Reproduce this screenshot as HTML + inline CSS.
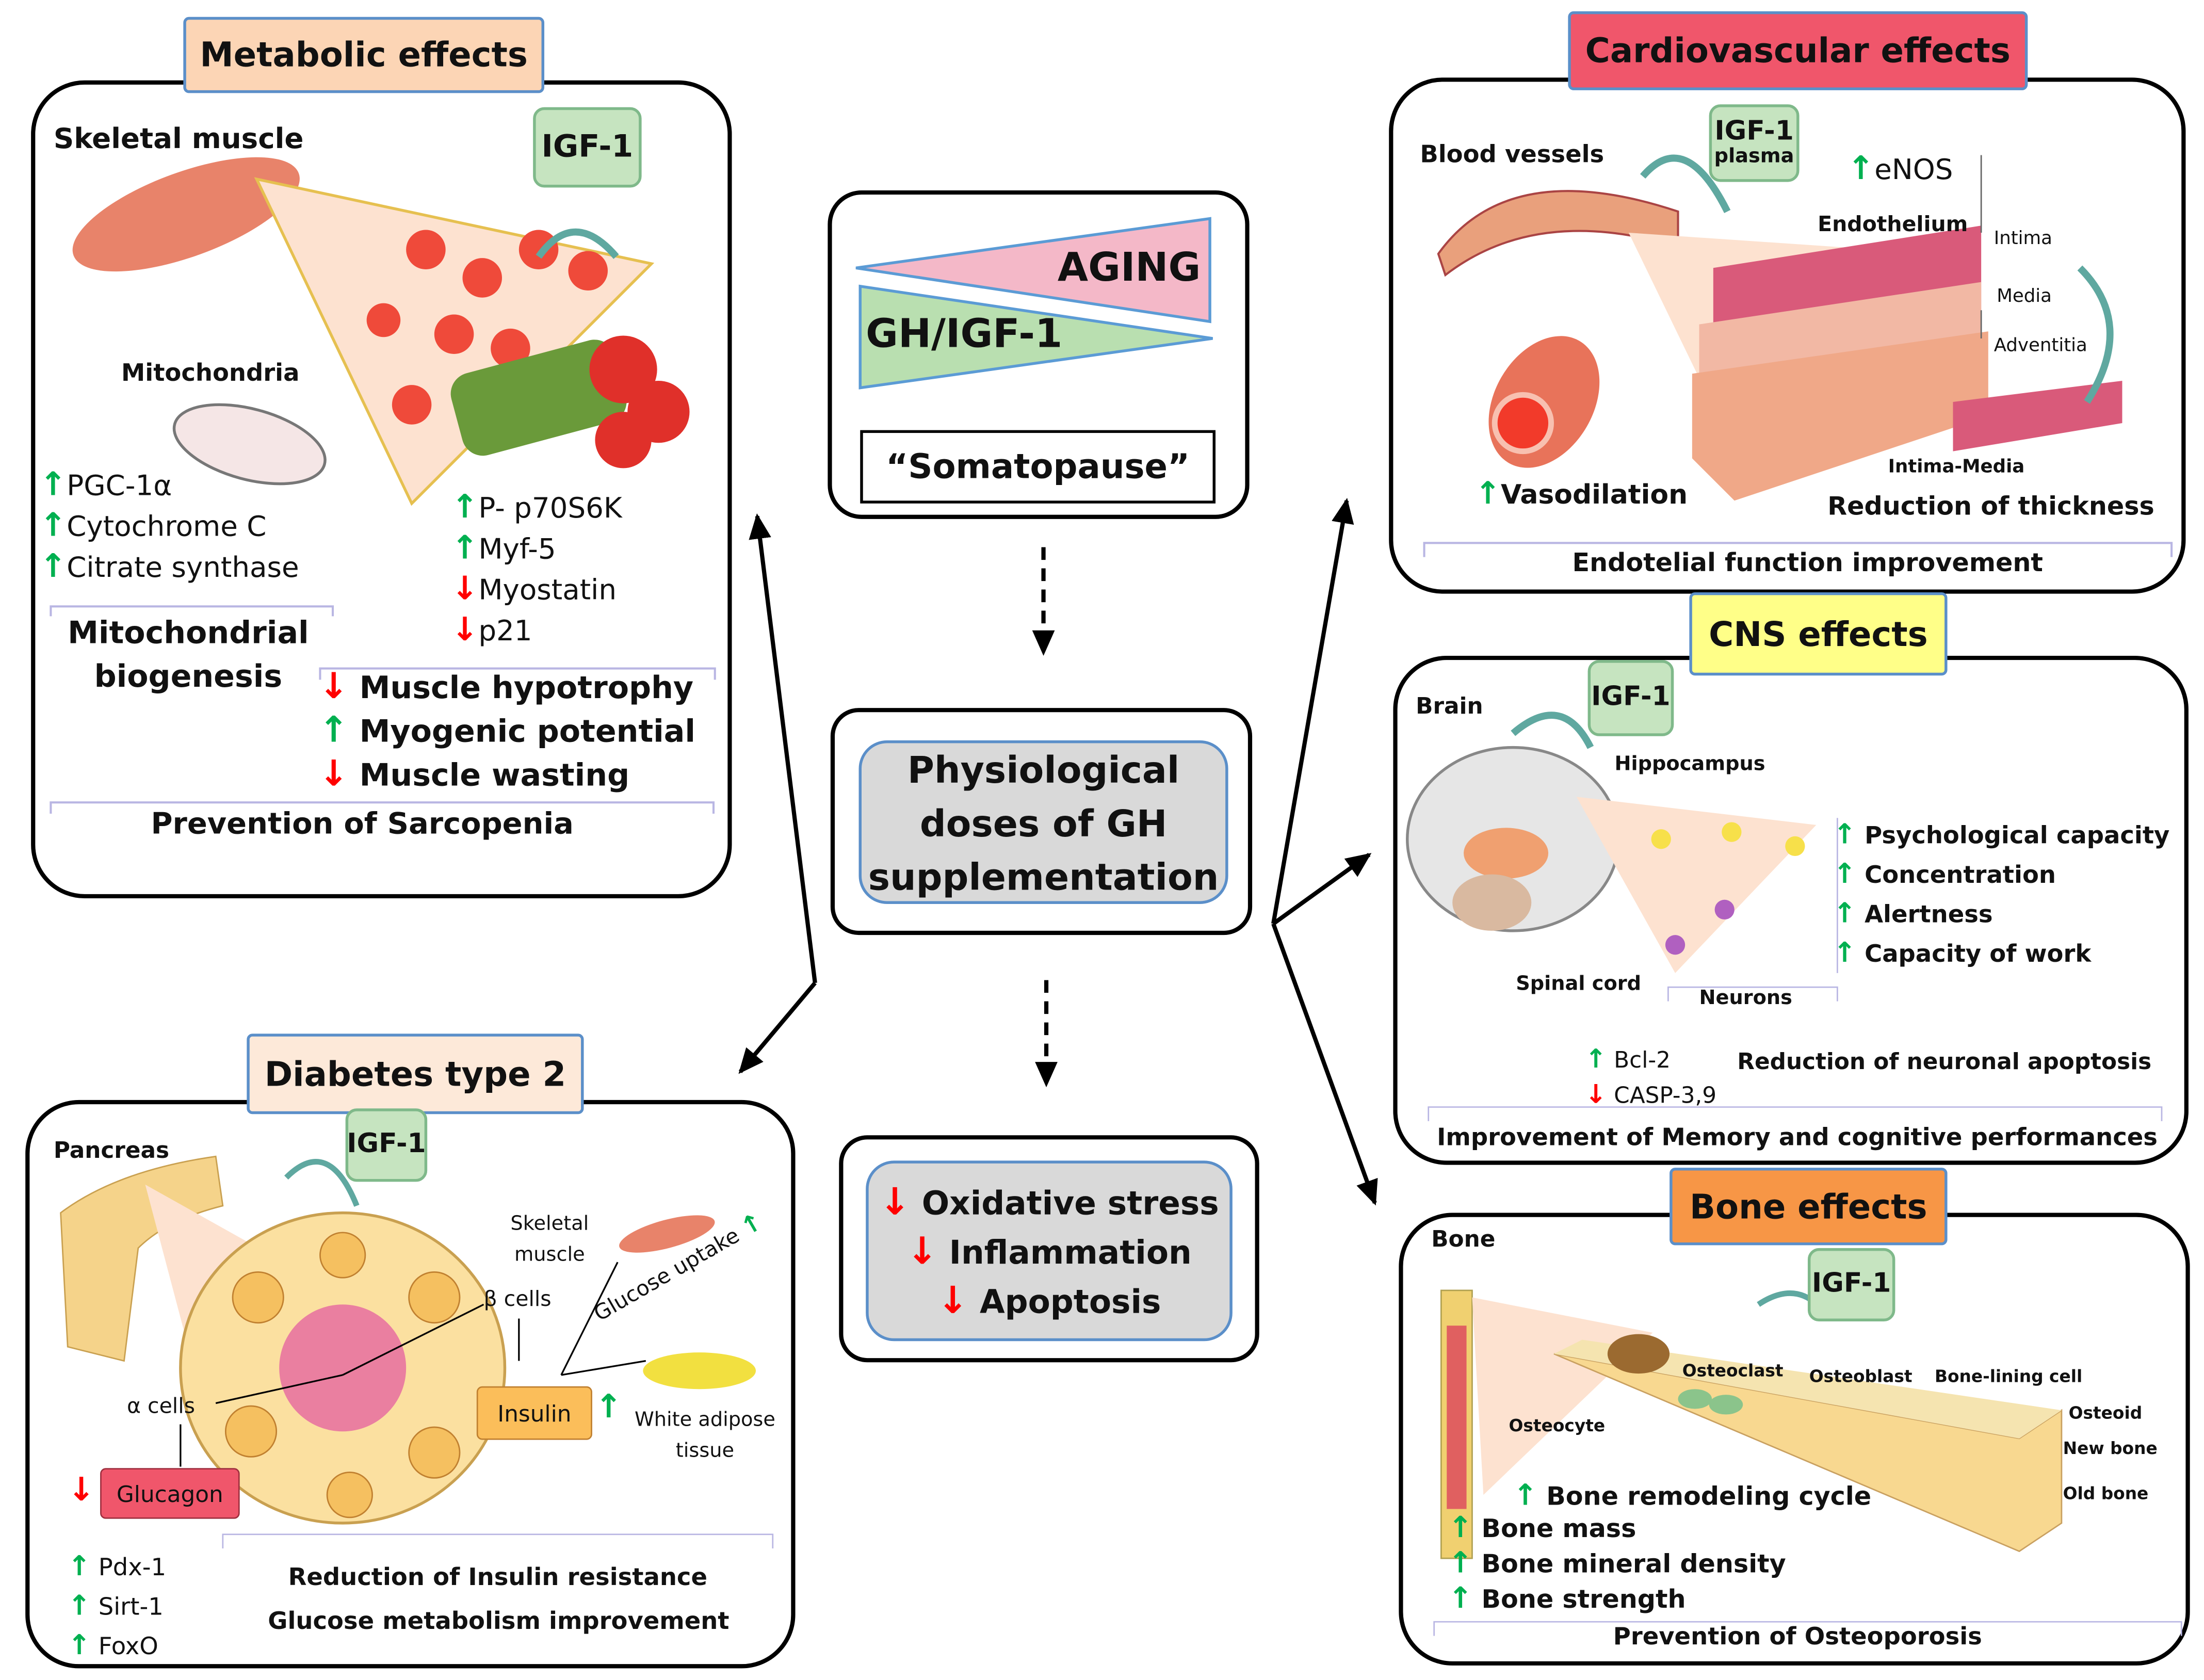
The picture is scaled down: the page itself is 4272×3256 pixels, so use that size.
<!DOCTYPE html>
<html><head><meta charset="utf-8"><style>
html,body{margin:0;padding:0;background:#fff;}
body{width:4272px;height:3256px;overflow:hidden;position:relative;}
#w{position:absolute;left:0;top:0;width:1563px;height:1191px;transform:scale(2.7332);transform-origin:0 0;font-family:"DejaVu Sans","Liberation Sans",sans-serif;color:#111;}
.a{position:absolute;}
.box{position:absolute;border:3px solid #000;border-radius:38px;background:#fff;box-sizing:border-box;}
.tab{position:absolute;border:2px solid #5b8fc9;box-sizing:border-box;font-weight:bold;font-size:24px;display:flex;align-items:center;justify-content:center;border-radius:4px;white-space:nowrap;}
.igf{position:absolute;background:#c6e4c0;border:2px solid #7fb98a;border-radius:8px;font-weight:bold;font-size:19px;display:flex;flex-direction:column;align-items:center;justify-content:center;box-sizing:border-box;text-align:center;line-height:1.05;white-space:nowrap;}
.t{position:absolute;white-space:nowrap;}
.b{font-weight:bold;}
.up{color:#00b050;font-weight:bold;font-family:"DejaVu Sans",sans-serif;font-size:1.15em;line-height:1;}
.dn{color:#ff0000;font-weight:bold;font-family:"DejaVu Sans",sans-serif;font-size:1.15em;line-height:1;}
</style></head><body><div id="w">

<svg class="a" style="left:0;top:0" width="1563" height="1191">
<defs><marker id="ar" markerUnits="userSpaceOnUse" markerWidth="18" markerHeight="16" refX="16" refY="8" orient="auto"><path d="M0,0 L18,8 L0,16 z" fill="#000"/></marker></defs>
<line x1="578" y1="697" x2="537" y2="366" stroke="#000" stroke-width="3" marker-end="url(#ar)"/>
<line x1="578" y1="697" x2="525" y2="760" stroke="#000" stroke-width="3" marker-end="url(#ar)"/>
<line x1="903" y1="655" x2="955" y2="355" stroke="#000" stroke-width="3" marker-end="url(#ar)"/>
<line x1="903" y1="655" x2="971" y2="606" stroke="#000" stroke-width="3" marker-end="url(#ar)"/>
<line x1="903" y1="655" x2="975" y2="853" stroke="#000" stroke-width="3" marker-end="url(#ar)"/>
<line x1="740" y1="388" x2="740" y2="463" stroke="#000" stroke-width="3" stroke-dasharray="9,6" marker-end="url(#ar)"/>
<line x1="742" y1="695" x2="742" y2="769" stroke="#000" stroke-width="3" stroke-dasharray="9,6" marker-end="url(#ar)"/>
</svg>

<!-- METABOLIC -->
<div class="box" style="left:22px;top:57px;width:497px;height:580px;"></div>
<div class="tab" style="left:130px;top:12px;width:256px;height:54px;background:#fcd5b5;">Metabolic effects</div>
<svg class="a" style="left:22px;top:57px" width="497" height="580">
<ellipse cx="110" cy="95" rx="85" ry="30" fill="#e8836a" transform="rotate(-20 110 95)"/>
<polygon points="160,70 440,130 270,300" fill="#fde2d0" stroke="#e6c050" stroke-width="2"/>
<g fill="#ef4a3a"><circle cx="280" cy="120" r="14"/><circle cx="320" cy="140" r="14"/><circle cx="360" cy="120" r="14"/><circle cx="300" cy="180" r="14"/><circle cx="340" cy="190" r="14"/><circle cx="270" cy="230" r="14"/><circle cx="250" cy="170" r="12"/><circle cx="395" cy="135" r="14"/></g>
<rect x="300" y="195" width="120" height="60" rx="15" fill="#6a9a3a" transform="rotate(-15 360 225)"/>
<circle cx="420" cy="205" r="24" fill="#e0302a"/><circle cx="445" cy="235" r="22" fill="#e0302a"/><circle cx="420" cy="255" r="20" fill="#e0302a"/>
<ellipse cx="155" cy="258" rx="55" ry="25" fill="#f5e6e6" stroke="#777" stroke-width="2" transform="rotate(15 155 258)"/>
<path d="M360,125 q25,-35 55,0" fill="none" stroke="#5fa8a0" stroke-width="5"/>
<g stroke="#b9b6e3" stroke-width="1.5" fill="none">
<path d="M14,380 v-7 h200 v7"/><path d="M205,425 v-8 h280 v8"/><path d="M14,520 v-8 h470 v8"/></g>
</svg>
<div class="igf" style="left:378px;top:76px;width:77px;height:57px;font-size:22px;">IGF-1</div>
<div class="t b" style="left:38px;top:86px;font-size:20px;">Skeletal muscle</div>
<div class="t b" style="left:86px;top:255px;font-size:17px;">Mitochondria</div>
<div class="t" style="left:28px;top:330px;font-size:20px;line-height:29px;"><span class="up">↑</span>PGC-1α<br><span class="up">↑</span>Cytochrome C<br><span class="up">↑</span>Citrate synthase</div>
<div class="t b" style="left:36px;top:434px;font-size:22px;line-height:31px;text-align:center;width:195px;">Mitochondrial<br>biogenesis</div>
<div class="t" style="left:320px;top:346px;font-size:20px;line-height:29px;"><span class="up">↑</span>P- p70S6K<br><span class="up">↑</span>Myf-5<br><span class="dn">↓</span>Myostatin<br><span class="dn">↓</span>p21</div>
<div class="t b" style="left:226px;top:473px;font-size:22px;line-height:31px;"><span class="dn">↓</span> Muscle hypotrophy<br><span class="up">↑</span> Myogenic potential<br><span class="dn">↓</span> Muscle wasting</div>
<div class="t b" style="left:107px;top:572px;font-size:21px;">Prevention of Sarcopenia</div>

<!-- CENTER TOP -->
<div class="box" style="left:587px;top:135px;width:299px;height:233px;border-radius:24px;"></div>
<svg class="a" style="left:0;top:0" width="1563" height="400">
<polygon points="607,190 858,155 858,228" fill="#f4b8c8" stroke="#5b9bd5" stroke-width="2"/>
<polygon points="610,203 610,275 860,240" fill="#b9dfb0" stroke="#5b9bd5" stroke-width="2"/>
</svg>
<div class="t b" style="left:750px;top:173px;font-size:28px;">AGING</div>
<div class="t b" style="left:614px;top:220px;font-size:28px;">GH/IGF-1</div>
<div class="a b" style="left:610px;top:305px;width:252px;height:52px;border:2px solid #000;box-sizing:border-box;font-size:24px;display:flex;align-items:center;justify-content:center;">“Somatopause”</div>

<!-- PHYSIO -->
<div class="box" style="left:589px;top:502px;width:299px;height:161px;border-radius:20px;"></div>
<div class="a b" style="left:609px;top:525px;width:262px;height:116px;background:#d9d9d9;border:2px solid #5b8fc9;border-radius:20px;box-sizing:border-box;font-size:26px;line-height:38px;text-align:center;padding-top:1px;">Physiological<br>doses of GH<br>supplementation</div>

<!-- OXIDATIVE -->
<div class="box" style="left:595px;top:805px;width:298px;height:161px;border-radius:20px;"></div>
<div class="a b" style="left:614px;top:823px;width:260px;height:128px;background:#d9d9d9;border:2px solid #5b8fc9;border-radius:20px;box-sizing:border-box;font-size:23px;line-height:35px;text-align:center;padding-top:12px;"><span class="dn">↓</span> Oxidative stress<br><span class="dn">↓</span> Inflammation<br><span class="dn">↓</span> Apoptosis</div>

<!-- CARDIO -->
<div class="box" style="left:985px;top:55px;width:565px;height:366px;"></div>
<div class="tab" style="left:1112px;top:8px;width:326px;height:56px;background:#f0566b;">Cardiovascular effects</div>
<svg class="a" style="left:985px;top:55px" width="565" height="366">
<path d="M35,125 q50,-70 170,-30 l0,25 q-100,-30 -165,20z" fill="#e9a07c" stroke="#a44" stroke-width="1.5"/>
<polygon points="170,110 390,125 250,275" fill="#fde2d0"/>
<ellipse cx="110" cy="230" rx="35" ry="50" fill="#e8735a" transform="rotate(30 110 230)"/>
<circle cx="95" cy="245" r="20" fill="#f23a2a" stroke="#f8c0b0" stroke-width="4"/>
<path d="M230,135 l190,-30 l0,80 l-190,40z" fill="#d95a7a"/>
<path d="M220,175 l200,-30 l0,70 l-200,45z" fill="#f2b8a4"/>
<path d="M215,210 l210,-30 l0,60 l-180,60 l-30,-30z" fill="#f0a888"/>
<path d="M400,230 l120,-15 l0,30 l-120,20z" fill="#d95a7a"/>
<path d="M420,110 v-55 M420,165 v20" stroke="#666"/>
<path d="M490,135 q40,40 5,95" fill="none" stroke="#5fa8a0" stroke-width="5"/>
<path d="M180,70 q30,-35 60,25" fill="none" stroke="#5fa8a0" stroke-width="5"/>
<path d="M25,340 v-10 h530 v10" fill="none" stroke="#b9b6e3" stroke-width="1.5"/>
</svg>
<div class="igf" style="left:1212px;top:74px;width:64px;height:55px;font-size:19px;">IGF-1<span style="font-size:14px">plasma</span></div>
<div class="t b" style="left:1007px;top:100px;font-size:17px;">Blood vessels</div>
<div class="t" style="left:1310px;top:108px;font-size:20px;"><span class="up">↑</span>eNOS</div>
<div class="t b" style="left:1289px;top:150px;font-size:15px;">Endothelium</div>
<div class="t" style="left:1414px;top:162px;font-size:13px;">Intima</div>
<div class="t" style="left:1416px;top:203px;font-size:13px;">Media</div>
<div class="t" style="left:1414px;top:238px;font-size:13px;">Adventitia</div>
<div class="t b" style="left:1339px;top:324px;font-size:13px;">Intima-Media</div>
<div class="t b" style="left:1046px;top:340px;font-size:19px;"><span class="up">↑</span>Vasodilation</div>
<div class="t b" style="left:1296px;top:349px;font-size:18px;">Reduction of thickness</div>
<div class="t b" style="left:1115px;top:389px;font-size:18px;">Endotelial function improvement</div>

<!-- CNS -->
<div class="box" style="left:988px;top:465px;width:564px;height:361px;"></div>
<div class="tab" style="left:1198px;top:420px;width:183px;height:59px;background:#ffff88;">CNS effects</div>
<svg class="a" style="left:988px;top:465px" width="564" height="361">
<ellipse cx="85" cy="130" rx="75" ry="65" fill="#e6e6e6" stroke="#888" stroke-width="2"/>
<ellipse cx="80" cy="140" rx="30" ry="18" fill="#f0a070"/>
<ellipse cx="70" cy="175" rx="28" ry="20" fill="#d9b9a0"/>
<polygon points="130,100 300,120 200,225" fill="#fde2d0"/>
<g fill="#f7e04a"><circle cx="190" cy="130" r="7"/><circle cx="240" cy="125" r="7"/><circle cx="285" cy="135" r="7"/></g>
<g fill="#b060c0"><circle cx="235" cy="180" r="7"/><circle cx="200" cy="205" r="7"/></g>
<path d="M195,245 v-10 h120 v10" fill="none" stroke="#b9b6e3"/>
<path d="M25,330 v-10 h520 v10" fill="none" stroke="#b9b6e3"/>
<path d="M315,115 v110" stroke="#b9b6e3"/>
<path d="M85,55 q35,-30 55,10" fill="none" stroke="#5fa8a0" stroke-width="5"/>
</svg>
<div class="igf" style="left:1126px;top:468px;width:61px;height:54px;">IGF-1</div>
<div class="t b" style="left:1004px;top:491px;font-size:16px;">Brain</div>
<div class="t b" style="left:1145px;top:534px;font-size:14px;">Hippocampus</div>
<div class="t b" style="left:1075px;top:690px;font-size:14px;">Spinal cord</div>
<div class="t b" style="left:1205px;top:700px;font-size:14px;">Neurons</div>
<div class="t b" style="left:1300px;top:579px;font-size:17px;line-height:28px;"><span class="up">↑</span> Psychological capacity<br><span class="up">↑</span> Concentration<br><span class="up">↑</span> Alertness<br><span class="up">↑</span> Capacity of work</div>
<div class="t" style="left:1124px;top:739px;font-size:16px;line-height:25px;"><span class="up">↑</span> Bcl-2<br><span class="dn">↓</span> CASP-3,9</div>
<div class="t b" style="left:1232px;top:743px;font-size:16px;">Reduction of neuronal apoptosis</div>
<div class="t b" style="left:1019px;top:797px;font-size:17px;">Improvement of Memory and cognitive performances</div>

<!-- BONE -->
<div class="box" style="left:992px;top:860px;width:561px;height:321px;"></div>
<div class="tab" style="left:1184px;top:828px;width:197px;height:55px;background:#f79646;">Bone effects</div>
<svg class="a" style="left:992px;top:860px" width="561" height="321">
<rect x="30" y="55" width="22" height="190" fill="#f0d070" stroke="#b0a050"/>
<rect x="34" y="80" width="14" height="130" fill="#e06060"/>
<polygon points="52,60 180,85 60,200" fill="#fde2d0"/>
<path d="M110,100 l330,60 l30,-20 l0,80 l-30,20 l-330,-140z" fill="#f8d890" stroke="#c9a060"/>
<path d="M110,100 l330,60 l30,-20 l-340,-50z" fill="#f5e4b0"/>
<ellipse cx="170" cy="100" rx="22" ry="14" fill="#9b6a30"/>
<g fill="#8bc48b"><ellipse cx="210" cy="132" rx="12" ry="7"/><ellipse cx="232" cy="136" rx="12" ry="7"/></g>
<path d="M255,65 q30,-20 50,10" fill="none" stroke="#5fa8a0" stroke-width="4"/>
<path d="M25,300 v-10 h530 v10" fill="none" stroke="#b9b6e3"/>
</svg>
<div class="igf" style="left:1282px;top:885px;width:62px;height:52px;">IGF-1</div>
<div class="t b" style="left:1015px;top:869px;font-size:16px;">Bone</div>
<div class="t b" style="left:1193px;top:965px;font-size:12px;">Osteoclast</div>
<div class="t b" style="left:1283px;top:969px;font-size:12px;">Osteoblast</div>
<div class="t b" style="left:1372px;top:969px;font-size:12px;">Bone-lining cell</div>
<div class="t b" style="left:1070px;top:1004px;font-size:12px;">Osteocyte</div>
<div class="t b" style="left:1467px;top:995px;font-size:12px;">Osteoid</div>
<div class="t b" style="left:1463px;top:1020px;font-size:12px;">New bone</div>
<div class="t b" style="left:1463px;top:1052px;font-size:12px;">Old bone</div>
<div class="t b" style="left:1073px;top:1050px;font-size:18px;"><span class="up">↑</span> Bone remodeling cycle</div>
<div class="t b" style="left:1027px;top:1072px;font-size:18px;line-height:25px;"><span class="up">↑</span> Bone mass<br><span class="up">↑</span> Bone mineral density<br><span class="up">↑</span> Bone strength</div>
<div class="t b" style="left:1144px;top:1151px;font-size:17px;">Prevention of Osteoporosis</div>

<!-- DIABETES -->
<div class="box" style="left:18px;top:780px;width:546px;height:403px;"></div>
<div class="tab" style="left:175px;top:733px;width:239px;height:57px;background:#fde9d9;">Diabetes type 2</div>
<svg class="a" style="left:18px;top:780px" width="546" height="403">
<path d="M25,80 q40,-30 110,-40 l5,35 q-40,10 -60,30 l-10,80 l-40,-10z" fill="#f5d38a" stroke="#c9a050"/>
<polygon points="85,60 210,130 130,230" fill="#fde2d0"/>
<ellipse cx="225" cy="190" rx="115" ry="110" fill="#fbe0a0" stroke="#c9a050" stroke-width="2"/>
<circle cx="225" cy="190" r="45" fill="#ea7fa0"/>
<g fill="#f5c060" stroke="#c08030"><circle cx="165" cy="140" r="18"/><circle cx="290" cy="140" r="18"/><circle cx="160" cy="235" r="18"/><circle cx="290" cy="250" r="18"/><circle cx="225" cy="110" r="16"/><circle cx="230" cy="280" r="16"/></g>
<ellipse cx="455" cy="95" rx="35" ry="10" fill="#e8836a" transform="rotate(-15 455 95)"/>
<ellipse cx="478" cy="192" rx="40" ry="13" fill="#f2e040"/>
<path d="M185,55 q30,-30 50,20" fill="none" stroke="#5fa8a0" stroke-width="4"/>
<g stroke="#000" fill="none" stroke-width="1.2"><path d="M380,195 l40,-80"/><path d="M380,195 l60,-10"/><path d="M350,155 v30"/><path d="M225,195 l100,-50"/><path d="M135,215 l90,-20"/><path d="M110,230 v30"/></g>
<path d="M140,318 v-10 h390 v10" fill="none" stroke="#b9b6e3"/>
</svg>
<div class="igf" style="left:245px;top:786px;width:58px;height:52px;">IGF-1</div>
<div class="t b" style="left:38px;top:806px;font-size:16px;">Pancreas</div>
<div class="t" style="left:362px;top:857px;font-size:14px;line-height:22px;text-align:center;">Skeletal<br>muscle</div>
<div class="t" style="left:343px;top:912px;font-size:15px;">β cells</div>
<div class="t" style="left:418px;top:925px;font-size:15px;transform:rotate(-30deg);transform-origin:0 0;">Glucose uptake <span class="up">↑</span></div>
<div class="t" style="left:90px;top:988px;font-size:15px;">α cells</div>
<div class="a" style="left:338px;top:983px;width:80px;height:36px;background:#fbbe5a;border:1px solid #c08030;font-size:16px;display:flex;align-items:center;justify-content:center;border-radius:4px;">Insulin</div>
<div class="t" style="left:422px;top:986px;font-size:20px;"><span class="up">↑</span></div>
<div class="t" style="left:450px;top:996px;font-size:14px;line-height:22px;text-align:center;">White adipose<br>tissue</div>
<div class="t" style="left:48px;top:1045px;font-size:20px;"><span class="dn">↓</span></div>
<div class="a" style="left:71px;top:1041px;width:97px;height:34px;background:#f0566b;border:1px solid #a03040;font-size:16px;display:flex;align-items:center;justify-content:center;border-radius:4px;">Glucagon</div>
<div class="t" style="left:48px;top:1098px;font-size:17px;line-height:28px;"><span class="up">↑</span> Pdx-1<br><span class="up">↑</span> Sirt-1<br><span class="up">↑</span> FoxO</div>
<div class="t b" style="left:190px;top:1104px;font-size:17px;line-height:31px;text-align:center;width:326px;">Reduction of Insulin resistance<br>Glucose metabolism improvement</div>

</div></body></html>
